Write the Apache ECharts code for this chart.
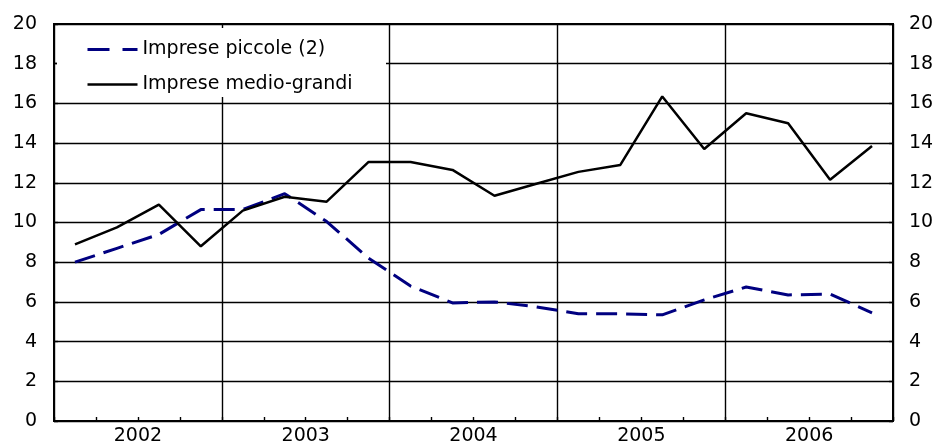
<!DOCTYPE html>
<html>
<head>
<meta charset="utf-8">
<script src="https://cdn.jsdelivr.net/npm/echarts@6/dist/echarts.min.js"></script>
<style>
html,body{margin:0;padding:0;background:#fff;}
#c{width:938px;height:447px;}
</style>
</head>
<body>
<div id="c"></div>
<script>
var years = ['2002', '2003', '2004', '2005', '2006'];
var quarterNames = ['I', 'II', 'III', 'IV'];
var yTicks = [0, 2, 4, 6, 8, 10, 12, 14, 16, 18, 20];
var seriesNames = ['Imprese piccole (2)', 'Imprese medio-grandi'];
var piccole = [8.0, 8.7, 9.4, 10.65, 10.65, 11.45, 10.05, 8.2, 6.8, 5.95, 6.0, 5.75, 5.4, 5.4, 5.35, 6.1, 6.75, 6.35, 6.4, 5.45];
var medioGrandi = [8.9, 9.75, 10.9, 8.8, 10.6, 11.3, 11.05, 13.05, 13.05, 12.65, 11.35, 11.95, 12.55, 12.9, 16.35, 13.7, 15.5, 15.0, 12.15, 13.85];

var quarters = [];
years.forEach(function (y) { quarterNames.forEach(function (q) { quarters.push(q + ' ' + y); }); });

var FONT = 'DejaVu Sans';
var chart = echarts.init(document.getElementById('c'), null, {renderer: 'canvas'});
chart.setOption({
  animation: false,
  backgroundColor: '#fff',
  textStyle: {fontFamily: FONT},
  grid: {left: 54, right: 45, top: 24, bottom: 26, show: true, borderColor: '#000', borderWidth: 2, backgroundColor: 'transparent'},
  legend: {
    orient: 'vertical', left: 86, top: 40, padding: 0,
    itemWidth: 50, itemHeight: 14, itemGap: 16,
    itemStyle: {opacity: 0},
    textStyle: {fontFamily: FONT, fontSize: 19, color: '#000'},
    data: [
      {name: seriesNames[0], itemStyle: {opacity: 0}, lineStyle: {color: '#000080', width: 3, type: [22, 13]}},
      {name: seriesNames[1], itemStyle: {opacity: 0}, lineStyle: {color: '#000', width: 2.5, type: 'solid'}}
    ]
  },
  graphic: [{
    type: 'rect', z: 3, silent: true,
    shape: {x: 57, y: 28, width: 329, height: 69},
    style: {fill: '#fff'}
  }],
  xAxis: [{
    type: 'category', data: quarters, boundaryGap: true, position: 'bottom',
    axisLine: {show: true, lineStyle: {color: '#000', width: 2}},
    axisTick: {show: true, inside: true, length: 4, interval: 0, lineStyle: {color: '#000', width: 1.4}},
    axisLabel: {
      show: true, interval: function (i) { return i % 4 === 1; },
      formatter: function (v, i) { return years[Math.floor(i / 4)]; },
      fontFamily: FONT, fontSize: 19, color: '#000', margin: 6,
      padding: [0, 0, 0, 42]
    },
    splitLine: {show: true, interval: 3, lineStyle: {color: '#000', width: 1.4}}
  }],
  yAxis: [{
    type: 'value', min: 0, max: 20, interval: 2, position: 'left',
    axisLine: {show: true, lineStyle: {color: '#000', width: 2}},
    axisTick: {show: true, inside: true, length: 4, lineStyle: {color: '#000', width: 1.4}},
    axisLabel: {fontFamily: FONT, fontSize: 19, color: '#000', margin: 17,
      formatter: function (v) { return yTicks.indexOf(v) >= 0 ? String(v) : ''; }},
    splitLine: {show: true, lineStyle: {color: '#000', width: 1.4}}
  }, {
    type: 'value', min: 0, max: 20, interval: 2, position: 'right',
    axisLine: {show: true, lineStyle: {color: '#000', width: 2}},
    axisTick: {show: true, inside: true, length: 4, lineStyle: {color: '#000', width: 1.4}},
    axisLabel: {fontFamily: FONT, fontSize: 19, color: '#000', margin: 16,
      formatter: function (v) { return yTicks.indexOf(v) >= 0 ? String(v) : ''; }},
    splitLine: {show: false}
  }],
  series: [{
    name: seriesNames[0], type: 'line', data: piccole, yAxisIndex: 0,
    symbol: 'none', z: 2,
    lineStyle: {color: '#000080', width: 3, type: [21, 9]},
    itemStyle: {color: '#000080'}
  }, {
    name: seriesNames[1], type: 'line', data: medioGrandi, yAxisIndex: 0,
    symbol: 'none', z: 2,
    lineStyle: {color: '#000', width: 2.5, type: 'solid'},
    itemStyle: {color: '#000'}
  }]
});
</script>
</body>
</html>
